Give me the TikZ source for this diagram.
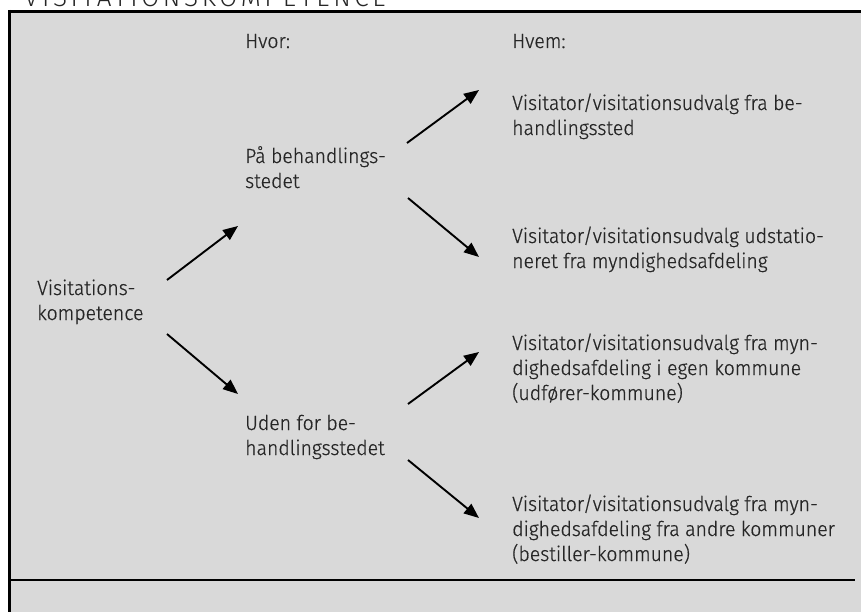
\documentclass[tikz,border=0pt]{standalone}
\usepackage{fontspec}
\setmainfont{Fira Sans Light}[FakeStretch=0.95,FakeBold=0.6]
\newfontfamily\titlefont{Fira Sans Light}
\usetikzlibrary{arrows.meta}
\definecolor{panel}{HTML}{D9D9D9}
\definecolor{ink}{HTML}{262626}
\tikzset{
  lbl/.style={anchor=base west, inner sep=0pt, align=left, text=ink,
    font=\fontsize{20.5}{25}\selectfont},
  arr/.style={line width=1.9pt, -{Triangle[length=15pt,width=12pt]}},
  rule/.style={line width=2.7pt, draw=black}
}
\begin{document}
\begin{tikzpicture}[x=1pt,y=-1pt]
\useasboundingbox (0,0) rectangle (861,612);
\begin{scope}
\clip (0,0) rectangle (861,612);
\fill[panel] (8,11) rectangle (861,612);
\draw[rule] (8,11.3) -- (861,11.3);
\draw[rule] (9.3,10) -- (9.3,612);
\draw[line width=2.4pt] (10,580) -- (855,580);
\node[anchor=base west, inner sep=0pt, text=ink,
  font=\titlefont\fontsize{26}{26}\selectfont\addfontfeature{LetterSpace=14}] (title) at (24,7) {VISITATIONSKOMPETENCE};
\end{scope}

\node[lbl] (hvor) at (245,48) {Hvor:};
\node[lbl] (hvem) at (512,48) {Hvem:};
\node[lbl] (visit) at (37,320) {Visitations-\\kompetence};
\node[lbl] (paa) at (245,188) {På behandlings-\\stedet};
\node[lbl] (uden) at (245,455) {Uden for be-\\handlingsstedet};
\node[lbl] (v1) at (512,135) {Visitator/visitationsudvalg fra be-\\handlingssted};
\node[lbl] (v2) at (512,268) {Visitator/visitationsudvalg udstatio-\\neret fra myndighedsafdeling};
\node[lbl] (v3) at (512,400) {Visitator/visitationsudvalg fra myn-\\dighedsafdeling i egen kommune\\(udfører-kommune)};
\node[lbl] (v4) at (512,561) {Visitator/visitationsudvalg fra myn-\\dighedsafdeling fra andre kommuner\\(bestiller-kommune)};

\coordinate (a1s) at (167,280); \coordinate (a1e) at (238,226);
\coordinate (a2s) at (167,334); \coordinate (a2e) at (238,394);
\coordinate (a3s) at (407,143); \coordinate (a3e) at (479,90);
\coordinate (a4s) at (408,198); \coordinate (a4e) at (479,257);
\coordinate (a5s) at (408,404); \coordinate (a5e) at (479,352);
\coordinate (a6s) at (408,460); \coordinate (a6e) at (479,518);
\draw[arr] (a1s) -- (a1e);
\draw[arr] (a2s) -- (a2e);
\draw[arr] (a3s) -- (a3e);
\draw[arr] (a4s) -- (a4e);
\draw[arr] (a5s) -- (a5e);
\draw[arr] (a6s) -- (a6e);
\end{tikzpicture}
\end{document}
